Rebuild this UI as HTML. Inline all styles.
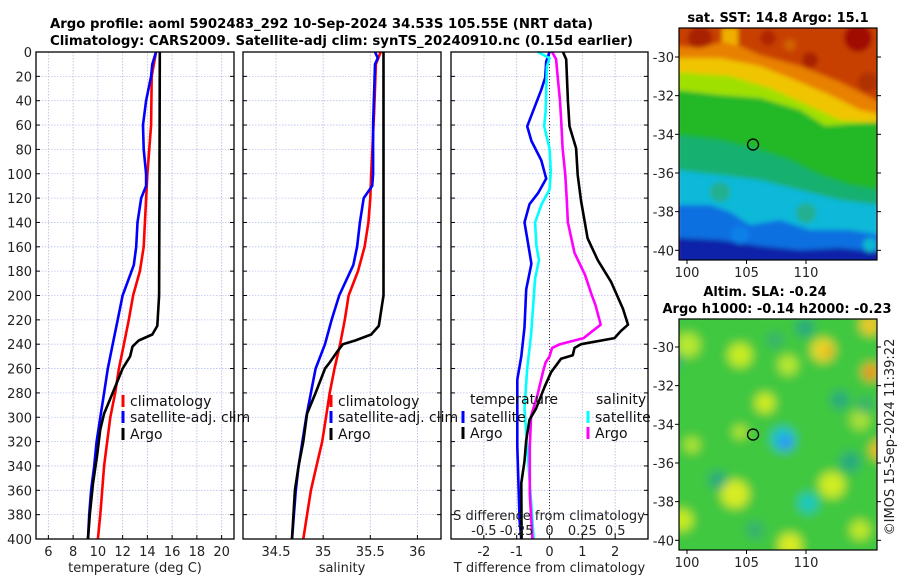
<!DOCTYPE html>
<html><head><meta charset="utf-8">
<style>
html,body{margin:0;padding:0;background:#fff;}
svg{display:block;font-family:"DejaVu Sans","Liberation Sans",sans-serif;}
</style></head>
<body>
<svg id="fig" width="900" height="580" viewBox="0 0 900 580" xmlns="http://www.w3.org/2000/svg">
<defs>
<filter id="blurA" x="-10%" y="-10%" width="120%" height="120%"><feGaussianBlur stdDeviation="2.5"/></filter>
<filter id="blurB" x="-30%" y="-30%" width="160%" height="160%"><feGaussianBlur stdDeviation="5"/></filter>
<clipPath id="clipMap1"><rect x="679" y="28" width="198" height="232"/></clipPath>
<clipPath id="clipMap2"><rect x="679" y="319" width="198" height="231"/></clipPath>
</defs>
<text x="50" y="28" font-size="13" font-weight="bold" textLength="543" lengthAdjust="spacingAndGlyphs">Argo profile: aoml 5902483_292 10-Sep-2024 34.53S 105.55E (NRT data)</text>
<text x="50" y="45" font-size="13" font-weight="bold" textLength="583" lengthAdjust="spacingAndGlyphs">Climatology: CARS2009. Satellite-adj clim: synTS_20240910.nc (0.15d earlier)</text>
<g id="plots"></g>
<g id="maps"></g>
</svg>
<script>
// ---------- profile data ----------
const depthTclim = [0,20,60,100,140,160,180,200,220,240,260,280,300,320,340,360,380,400];
const tempClim   = [14.7,14.35,14.3,14.0,13.8,13.7,13.4,12.85,12.5,12.1,11.7,11.4,11.0,10.75,10.5,10.35,10.2,10.0];
const depthTsat  = [0,10,20,40,60,80,100,110,120,140,160,175,200,220,240,260,280,300,320,340,360,380,400];
const tempSat    = [14.7,14.4,14.3,13.9,13.65,13.7,13.9,13.9,13.5,13.2,13.1,12.9,12.0,11.6,11.2,10.8,10.5,10.2,9.9,9.7,9.45,9.3,9.2];
const depthTargo = [0,100,200,225,232,237,242,250,260,280,297,310,330,355,380,400];
const tempArgo   = [15.0,14.98,14.95,14.8,14.4,13.3,12.8,12.6,12.0,11.2,10.5,10.2,9.95,9.6,9.35,9.2];

const depthSclim = [0,10,50,100,120,140,160,180,200,220,240,260,280,300,320,340,360,380,400];
const salClim    = [35.61,35.56,35.54,35.51,35.50,35.48,35.44,35.37,35.27,35.23,35.18,35.12,35.07,35.03,34.99,34.93,34.87,34.83,34.79];
const depthSsat  = [0,5,10,60,100,110,120,140,160,175,200,220,240,260,280,300,320,340,360,400];
const salSat     = [35.55,35.58,35.55,35.53,35.53,35.52,35.43,35.39,35.36,35.32,35.17,35.09,35.02,34.92,34.87,34.82,34.78,34.74,34.71,34.67];
const depthSargo = [0,100,200,225,232,237,240,245,255,260,280,297,320,340,360,400];
const salArgo    = [35.64,35.64,35.64,35.59,35.51,35.34,35.21,35.16,35.07,35.02,34.92,34.83,34.79,34.74,34.70,34.67];

const depthDTargo = [0,6,40,61,79,101,122,153,171,189,211,224,229,235,240,243,249,252,263,275,293,302,319,336,354,400];
const dTargo      = [0.41,0.51,0.56,0.61,0.81,0.86,0.96,1.16,1.47,1.88,2.24,2.39,2.18,1.98,0.96,0.76,0.71,0.35,0.05,-0.15,-0.41,-0.61,-0.71,-0.76,-0.86,-0.85];
const depthDTsat  = [0,8,21,31,61,73,89,104,116,125,140,156,174,195,226,250,269,324,385,400];
const dTsat       = [0,-0.1,-0.13,-0.25,-0.68,-0.55,-0.25,-0.1,-0.35,-0.61,-0.76,-0.66,-0.55,-0.71,-0.76,-0.86,-0.98,-0.98,-0.91,-0.86];
const depthDSsat  = [0,5,12,49,61,79,98,113,125,140,159,171,186,232,260,293,324,369,400];
const dSsat       = [-0.09,0,-0.02,-0.03,-0.04,0,0.01,0,-0.06,-0.11,-0.10,-0.08,-0.11,-0.14,-0.17,-0.19,-0.17,-0.14,-0.12];
const depthDSargo = [0,6,18,40,58,79,101,119,140,165,183,199,208,224,229,235,240,243,250,255,263,281,299,324,363,400];
const dSargo      = [0.02,0.05,0.06,0.08,0.09,0.10,0.12,0.13,0.14,0.19,0.27,0.32,0.35,0.39,0.33,0.26,0.08,0.02,0,-0.03,-0.05,-0.09,-0.14,-0.15,-0.15,-0.13];

const depthTicks = [0,20,40,60,80,100,120,140,160,180,200,220,240,260,280,300,320,340,360,380,400];
const tTicks = [6,8,10,12,14,16,18,20];
const sTicks = [34.5,35,35.5,36];
const sTickLabels = ["34.5","35","35.5","36"];
const dtTicks = [-2,-1,0,1,2];
const dtTickLabels = ["-2","-1","0","1","2"];
const dsTicks = [-0.5,-0.25,0,0.25,0.5];
const dsTickLabels = ["-0.5","-0.25","0","0.25","0.5"];

// ---------- helpers ----------
const NS = "http://www.w3.org/2000/svg";
const plots = document.getElementById('plots');
function el(tag, attrs, parent){const e=document.createElementNS(NS,tag);for(const k in attrs)e.setAttribute(k,attrs[k]);(parent||plots).appendChild(e);return e;}
const Y0=52, Y1=539;
function yScale(d){return Y0+(d/400)*(Y1-Y0);}
function mkX(x0,x1,d0,d1){return v=>x0+(v-d0)/(d1-d0)*(x1-x0);}
const P1={x0:36,x1:234}, P2={x0:243,x1:441}, P3={x0:451,x1:648};
const xT=mkX(P1.x0,P1.x1,5,21);
const xS=mkX(P2.x0,P2.x1,34.15,36.25);
const xDT=mkX(P3.x0,P3.x1,-3,3);
const xDS=mkX(P3.x0,P3.x1,-0.75,0.75);

function series(depths, vals, xf, color, name){
  let d='';
  for(let i=0;i<vals.length;i++){d+=(i?'L':'M')+xf(vals[i]).toFixed(1)+','+yScale(depths[i]).toFixed(1);}
  const p=el('path',{d:d,fill:'none',stroke:color,'stroke-width':2.6,'stroke-linejoin':'round'});
  
  
}
function panelFrame(P, name, xticks, xlabels, xf, axisLabel){
  const g=el('g',{});
  
  
  depthTicks.forEach(d=>{
    const y=yScale(d);
    const gl=el('line',{x1:P.x0,x2:P.x1,y1:y,y2:y,stroke:'#b8c4ee','stroke-width':0.8,'stroke-dasharray':'1.5,1.5'},g);
    
    
    el('line',{x1:P.x0,x2:P.x0+4,y1:y,y2:y,stroke:'#000','stroke-width':1},g);
    el('line',{x1:P.x1-4,x2:P.x1,y1:y,y2:y,stroke:'#000','stroke-width':1},g);
  });
  xticks.forEach((t,i)=>{
    const x=xf(t);
    const gl=el('line',{x1:x,x2:x,y1:Y0,y2:Y1,stroke:'#c8b8e0','stroke-width':0.9,'stroke-dasharray':'1.5,1.5'},g);
    
    
    el('line',{x1:x,x2:x,y1:Y1,y2:Y1-4,stroke:'#000','stroke-width':1},g);
    const tl=el('text',{x:x,y:556,'font-size':13,'text-anchor':'middle',fill:'#222'},g);
    tl.textContent=xlabels[i];
    
    
  });
  const al=el('text',{x:(P.x0+P.x1)/2,y:572,'font-size':13,'text-anchor':'middle',fill:'#222'},g);
  al.textContent=axisLabel;
  
  
  return g;
}
function frameBorder(P){
  const r=el('rect',{x:P.x0,y:Y0,width:P.x1-P.x0,height:Y1-Y0,fill:'none',stroke:'#000','stroke-width':1.3});
  
  
}
function legendEntry(x,y,color,label){
  const g=el('g',{});
  
  
  el('rect',{x:x-1.5,y:y-6,width:3,height:12,fill:color},g);
  const t=el('text',{x:x+7,y:y+5,'font-size':14,fill:'#111'},g);
  t.textContent=label;
}

depthTicks.forEach(d=>{
  const t=el('text',{x:32,y:yScale(d)+5,'font-size':13,'text-anchor':'end',fill:'#222'});
  t.textContent=String(d);
  
  
});

// panel 1
panelFrame(P1,'temperature-panel',tTicks,tTicks.map(String),xT,'temperature (deg C)');
series(depthTclim,tempClim,xT,'#ff0000','temp-climatology-line');
series(depthTsat,tempSat,xT,'#0000ff','temp-satellite-line');
series(depthTargo,tempArgo,xT,'#000000','temp-argo-line');
frameBorder(P1);
legendEntry(123,401,'#ff0000','climatology');
legendEntry(123,417,'#0000ff','satellite-adj. clim');
legendEntry(123,434,'#000000','Argo');

// panel 2
panelFrame(P2,'salinity-panel',sTicks,sTickLabels,xS,'salinity');
series(depthSclim,salClim,xS,'#ff0000','sal-climatology-line');
series(depthSsat,salSat,xS,'#0000ff','sal-satellite-line');
series(depthSargo,salArgo,xS,'#000000','sal-argo-line');
frameBorder(P2);
legendEntry(331,401,'#ff0000','climatology');
legendEntry(331,417,'#0000ff','satellite-adj. clim');
legendEntry(331,434,'#000000','Argo');

// panel 3
panelFrame(P3,'difference-panel',dtTicks,dtTickLabels,xDT,'T difference from climatology');
const zl=el('line',{x1:xDT(0),x2:xDT(0),y1:Y0,y2:Y1,stroke:'#333','stroke-width':1,'stroke-dasharray':'1,2'});


series(depthDTsat,dTsat,xDT,'#0000ff','dT-satellite-line');
series(depthDSsat,dSsat,xDS,'#00ffff','dS-satellite-line');
series(depthDSargo,dSargo,xDS,'#ff00ff','dS-argo-line');
series(depthDTargo,dTargo,xDT,'#000000','dT-argo-line');
frameBorder(P3);
{
 const t1=el('text',{x:470,y:404,'font-size':14,fill:'#111'});t1.textContent='temperature';
 
 const t2=el('text',{x:596,y:404,'font-size':14,fill:'#111'});t2.textContent='salinity';
 
 legendEntry(463,417,'#0000ff','satellite');
 legendEntry(463,433,'#000000','Argo');
 legendEntry(588,417,'#00ffff','satellite');
 legendEntry(588,433,'#ff00ff','Argo');
 const st=el('text',{x:549,y:520,'font-size':13,'text-anchor':'middle',fill:'#222'});st.textContent='S difference from climatology';
 
 dsTicks.forEach((v,i)=>{
   const t=el('text',{x:xDS(v),y:535,'font-size':13,'text-anchor':'middle',fill:'#222'});t.textContent=dsTickLabels[i];
   
 });
}

// ---------- maps ----------
const maps=document.getElementById('maps');
function mel(tag,attrs,parent){const e=document.createElementNS(NS,tag);for(const k in attrs)e.setAttribute(k,attrs[k]);(parent||maps).appendChild(e);return e;}
const latTicks=[-30,-32,-34,-36,-38,-40];
const lonTicks=[100,105,110];
function lonX(l){return 687+(l-100)*11.9;}
function polyBand(g,color,pts,bottom){
  let d='M'+pts[0][0]+','+pts[0][1];
  for(let i=1;i<pts.length;i++)d+='L'+pts[i][0]+','+pts[i][1];
  d+='L880,'+bottom+'L676,'+bottom+'Z';
  mel('path',{d:d,fill:color},g);
}
// SST map
const g1=mel('g',{});


const img1=mel('g',{'clip-path':'url(#clipMap1)'},g1);
const inner1=mel('g',{filter:'url(#blurA)'},img1);
mel('rect',{x:670,y:20,width:215,height:250,fill:'#c84000'},inner1);
[[700,38,12,'#a82000'],[768,38,8,'#b02800'],[858,38,14,'#a00800'],[810,60,8,'#a82000'],[868,82,10,'#b03000'],[790,45,6,'#d06000']].forEach(b=>mel('circle',{cx:b[0],cy:b[1],r:b[2],fill:b[3]},inner1));
mel('rect',{x:722,y:28,width:16,height:30,fill:'#f0b000'},inner1);
polyBand(inner1,'#e88000',[[676,46],[700,48],[722,42],[740,46],[760,55],[800,66],[840,82],[880,102]],270);
polyBand(inner1,'#f0c400',[[676,58],[720,58],[760,66],[790,78],[830,95],[860,110],[880,114]],270);
polyBand(inner1,'#a0e000',[[676,72],[730,76],[770,88],[810,106],[840,120],[880,123]],270);
polyBand(inner1,'#20b828',[[676,90],[720,95],[760,98],[800,110],[825,126],[850,124],[880,122]],270);
polyBand(inner1,'#18b070',[[676,135],[720,140],[760,150],[790,160],[820,175],[850,185],[880,190]],270);
polyBand(inner1,'#10b8d8',[[676,170],[720,175],[760,180],[800,190],[840,200],[880,205]],270);
polyBand(inner1,'#1070e0',[[676,205],[710,205],[730,212],[750,225],[780,220],[810,230],[850,230],[880,235]],270);
polyBand(inner1,'#0820a8',[[676,238],[720,240],[760,246],[800,250],[840,248],[880,252]],270);
[[720,192,10,'#20b090'],[806,213,10,'#20b090'],[740,235,9,'#1080e8'],[870,245,7,'#10b8d0'],[860,170,6,'#20b828']].forEach(b=>mel('circle',{cx:b[0],cy:b[1],r:b[2],fill:b[3]},inner1));
// SLA map
const g2=mel('g',{});


const img2=mel('g',{'clip-path':'url(#clipMap2)'},g2);
const inner2=mel('g',{filter:'url(#blurB)'},img2);
mel('rect',{x:670,y:310,width:215,height:250,fill:'#40c840'},inner2);
const slaBlobs=[
 [688,345,12,'#b8e830'],[740,355,12,'#c8ec20'],[765,403,10,'#d0ec20'],[788,365,10,'#b8e830'],[823,350,12,'#e8d828'],[828,352,5,'#f0a020'],
 [870,325,10,'#f0c828'],[871,372,9,'#f0a828'],[870,373,4,'#e87018'],[880,450,10,'#f0b828'],[735,494,14,'#d8ec20'],[832,485,13,'#d0ec20'],
 [682,520,11,'#c8ec20'],[790,545,12,'#d8ec20'],[860,530,10,'#c0e828'],[692,445,8,'#b0e430'],[740,432,7,'#b8e830'],[860,420,10,'#a8e038'],
 [805,328,9,'#28a880'],[775,340,8,'#38b070'],[840,400,9,'#28a880'],[865,405,8,'#38b070'],[850,462,10,'#28a880'],[718,480,9,'#28a880'],[808,503,10,'#18c8c0'],
 [783,439,12,'#18c0d0'],[786,443,7,'#3090ff'],[755,530,9,'#38b070'],[675,360,8,'#38b070']
];
slaBlobs.forEach(b=>mel('circle',{cx:b[0],cy:b[1],r:b[2],fill:b[3]},inner2));

function mapFrame(top,bottom,lat30y){
  mel('rect',{x:679,y:top,width:198,height:bottom-top,fill:'none',stroke:'#000','stroke-width':1.2});
  latTicks.forEach(l=>{
    const y=lat30y+(-30-l)*19.33;
    mel('line',{x1:679,x2:675,y1:y,y2:y,stroke:'#000'});
    mel('line',{x1:877,x2:881,y1:y,y2:y,stroke:'#000'});
    const t=mel('text',{x:674,y:y+5,'font-size':13,'text-anchor':'end',fill:'#222'});t.textContent=String(l);
    
  });
  lonTicks.forEach(l=>{
    const x=lonX(l);
    mel('line',{x1:x,x2:x,y1:bottom,y2:bottom+4,stroke:'#000'});
    const t=mel('text',{x:x,y:bottom+17,'font-size':13,'text-anchor':'middle',fill:'#222'});t.textContent=String(l);
    
  });
  const c=mel('circle',{cx:lonX(105.55),cy:lat30y+4.53*19.33,r:5.5,fill:'none',stroke:'#000','stroke-width':1.3});
  
}
mapFrame(28,260,57);
mapFrame(319,550,347);
[['sst-map-title',778,22,'sat. SST: 14.8 Argo: 15.1'],['sla-map-title',765,296,'Altim. SLA: -0.24'],['argo-height-title',777,313,'Argo h1000: -0.14 h2000: -0.23']].forEach(a=>{
  const t=mel('text',{x:a[1],y:a[2],'font-size':13,'font-weight':'bold','text-anchor':'middle',fill:'#000'});
  t.textContent=a[3];
  
  
});
const cr=mel('text',{x:0,y:0,'font-size':13,'text-anchor':'middle',fill:'#222',transform:'translate(894,437) rotate(-90)'});
cr.textContent='©IMOS 15-Sep-2024 11:39:22';


</script>
</body></html>
